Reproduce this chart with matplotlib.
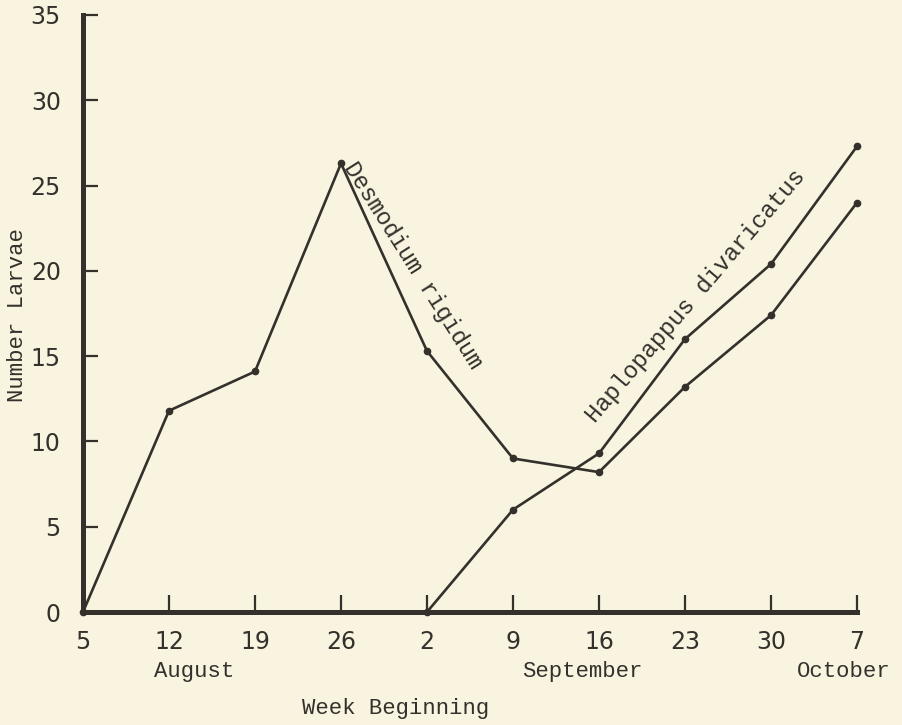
import numpy as np
import matplotlib
matplotlib.use('Agg')
import matplotlib.pyplot as plt

weeks = ['5', '12', '19', '26', '2', '9', '16', '23', '30', '7']
desmodium = [0, 11.8, 14.1, 26.3, 15.3, 9.0, 8.2, 13.2, 17.4, 24.0]
haplopappus = [np.nan, np.nan, np.nan, np.nan, 0, 6.0, 9.3, 16.0, 20.4, 27.3]
months = ['August', 'September', 'October']
month_pos = [1.29, 5.8, 8.85]  # where the month names sit under the ticks

bg = '#f8f4e0'
ink = '#36302c'
mono = 'Liberation Mono'

fig = plt.figure(figsize=(9.03, 7.25), dpi=100, facecolor=bg)
ax = fig.add_axes([83 / 903, 113 / 725, (857 - 83) / 903, 597 / 725])
ax.set_facecolor(bg)

x = np.arange(len(weeks))
ax.plot(x, desmodium, color=ink, lw=1.9, marker='o', ms=4.5, clip_on=False, zorder=3)
ax.plot(x, haplopappus, color=ink, lw=1.9, marker='o', ms=4.5, clip_on=False, zorder=3)

ax.set_xlim(0, 9)
ax.set_ylim(0, 35)
ax.set_xticks(x)
ax.set_xticklabels(weeks)
ax.set_yticks(range(0, 36, 5))

for s in ['top', 'right']:
    ax.spines[s].set_visible(False)
for s in ['left', 'bottom']:
    ax.spines[s].set_linewidth(3.6)
    ax.spines[s].set_color(ink)
    ax.spines[s].set_capstyle('projecting')

ax.tick_params(axis='y', direction='in', length=11, width=1.6, color=ink, pad=16,
               labelsize=17, labelcolor=ink)
ax.tick_params(axis='x', direction='in', length=12, width=1.6, color=ink, pad=13,
               labelsize=17, labelcolor=ink)

# month names and axis titles
for m, p in zip(months, month_pos):
    ax.text(p, -0.1005, m, transform=ax.get_xaxis_transform(), ha='center', va='center',
            family=mono, fontsize=16, color=ink)
ax.text(3.63, -0.161, 'Week Beginning', transform=ax.get_xaxis_transform(),
        ha='center', va='center', family=mono, fontsize=16, color=ink)
fig.text(18 / 903, 1 - 315 / 725, 'Number Larvae', rotation=90, ha='center', va='center',
         family=mono, fontsize=16, color=ink)

# labels along the curves
ax.text(3.84, 20.3, 'Desmodium rigidum', rotation=-57.7, rotation_mode='anchor',
        ha='center', va='center', family=mono, fontsize=17, color=ink)
ax.text(7.12, 18.5, 'Haplopappus divaricatus', rotation=49.5, rotation_mode='anchor',
        ha='center', va='center', family=mono, fontsize=17, color=ink)

plt.savefig('out.png', dpi=100, facecolor=bg)
